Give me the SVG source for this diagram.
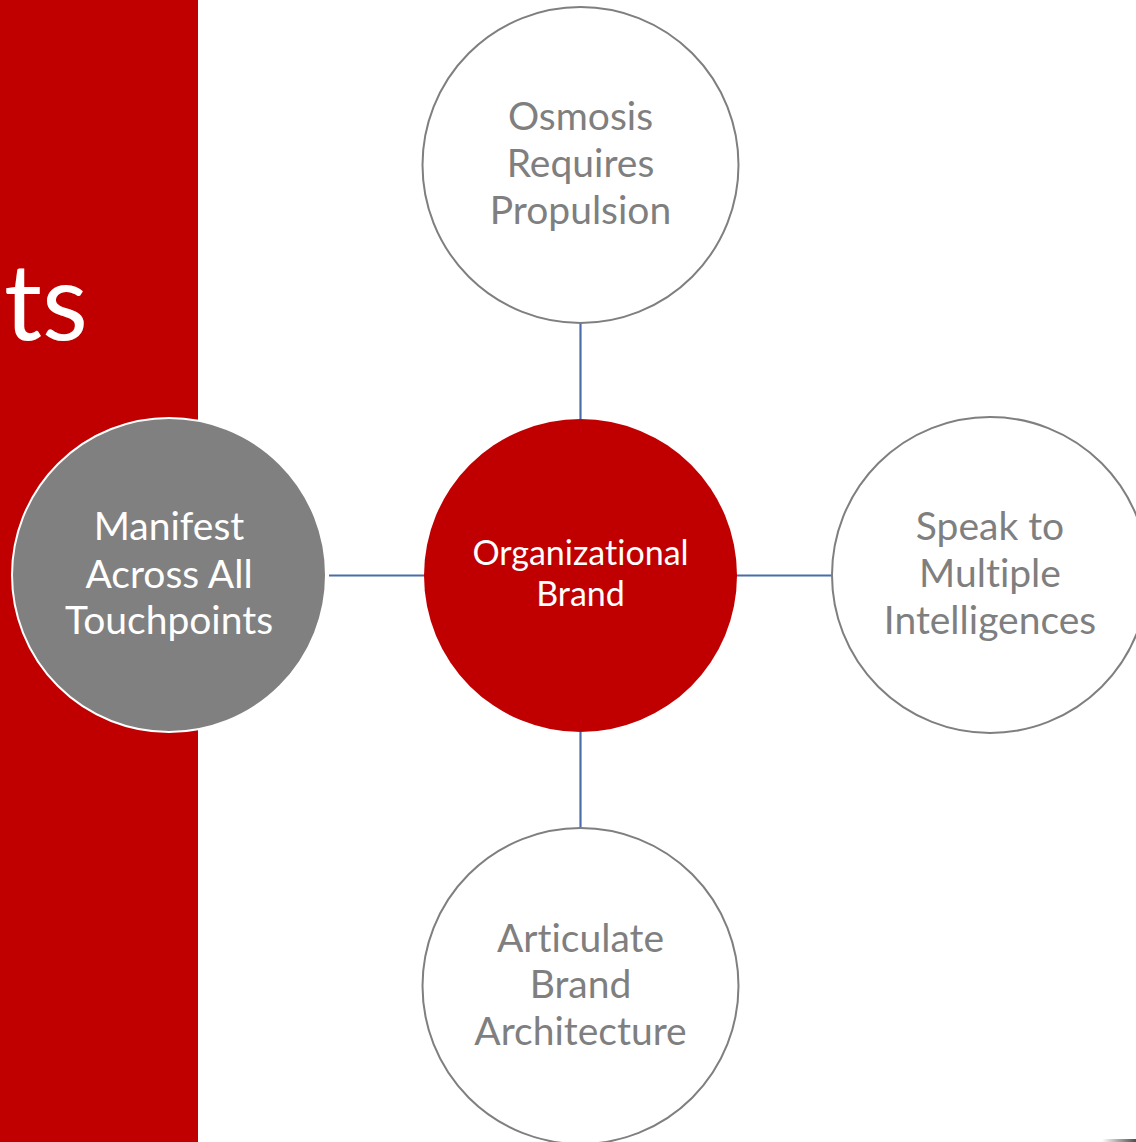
<svg xmlns="http://www.w3.org/2000/svg" width="1136" height="1142" viewBox="0 0 1136 1142">
  <defs>
    <style>
      .node-outline { fill: #FFFFFF; stroke: #7F7F7F; stroke-width: 2; }
      text { font-variant-ligatures: none; font-feature-settings: "liga" 0, "clig" 0; }
      .label { font-family: Lato, "Open Sans", "Liberation Sans", sans-serif; text-anchor: middle; }
      .side { font-size: 39px; fill: #7F7F7F; }
      .light { fill: #FFFFFF; }
      .center { font-size: 34px; fill: #FFFFFF; }
      .conn { stroke: #4A6DAA; stroke-width: 2.2; fill: none; }
    </style>
    <linearGradient id="grayfade" x1="0" y1="0" x2="1" y2="0">
      <stop offset="0" stop-color="#FFFFFF"/>
      <stop offset="1" stop-color="#4D4D4D"/>
    </linearGradient>
  </defs>

  <rect x="0" y="0" width="1136" height="1142" fill="#FFFFFF"/>

  <g id="background">
    <rect x="0" y="0" width="198" height="1142" fill="#C00000"/>
    <text x="4" y="340" font-family="Lato, 'Open Sans', 'Liberation Sans', sans-serif" font-size="106" fill="#FFFFFF">ts</text>
    <rect x="1102" y="1139" width="34" height="3" fill="url(#grayfade)"/>
  </g>

  <g id="connectors">
    <line class="conn" x1="580.5" y1="323" x2="580.5" y2="419"/>
    <line class="conn" x1="580.5" y1="732" x2="580.5" y2="828"/>
    <line class="conn" x1="329" y1="575.5" x2="424" y2="575.5"/>
    <line class="conn" x1="737" y1="575.5" x2="832" y2="575.5"/>
  </g>

  <g id="node-top">
    <circle class="node-outline" cx="580.5" cy="165" r="158"/>
    <text class="label side" x="580.5" y="130">Osmosis</text>
    <text class="label side" x="580.5" y="177">Requires</text>
    <text class="label side" x="580.5" y="224">Propulsion</text>
  </g>

  <g id="node-right">
    <circle class="node-outline" cx="990" cy="575" r="158"/>
    <text class="label side" x="990" y="540">Speak to</text>
    <text class="label side" x="990" y="587">Multiple</text>
    <text class="label side" x="990" y="634">Intelligences</text>
  </g>

  <g id="node-bottom">
    <circle class="node-outline" cx="580.5" cy="986" r="158"/>
    <text class="label side" x="580.5" y="952">Articulate</text>
    <text class="label side" x="580.5" y="998">Brand</text>
    <text class="label side" x="580.5" y="1045">Architecture</text>
  </g>

  <g id="node-left">
    <circle cx="169" cy="575" r="157" fill="#808080" stroke="#FFFFFF" stroke-width="2"/>
    <text class="label side light" x="169" y="540">Manifest</text>
    <text class="label side light" x="169" y="588">Across All</text>
    <text class="label side light" x="169" y="634">Touchpoints</text>
  </g>

  <g id="node-center">
    <circle cx="580.5" cy="575.5" r="156.5" fill="#C00000"/>
    <text class="label center" x="580.5" y="565">Organizational</text>
    <text class="label center" x="580.5" y="606">Brand</text>
  </g>
</svg>
